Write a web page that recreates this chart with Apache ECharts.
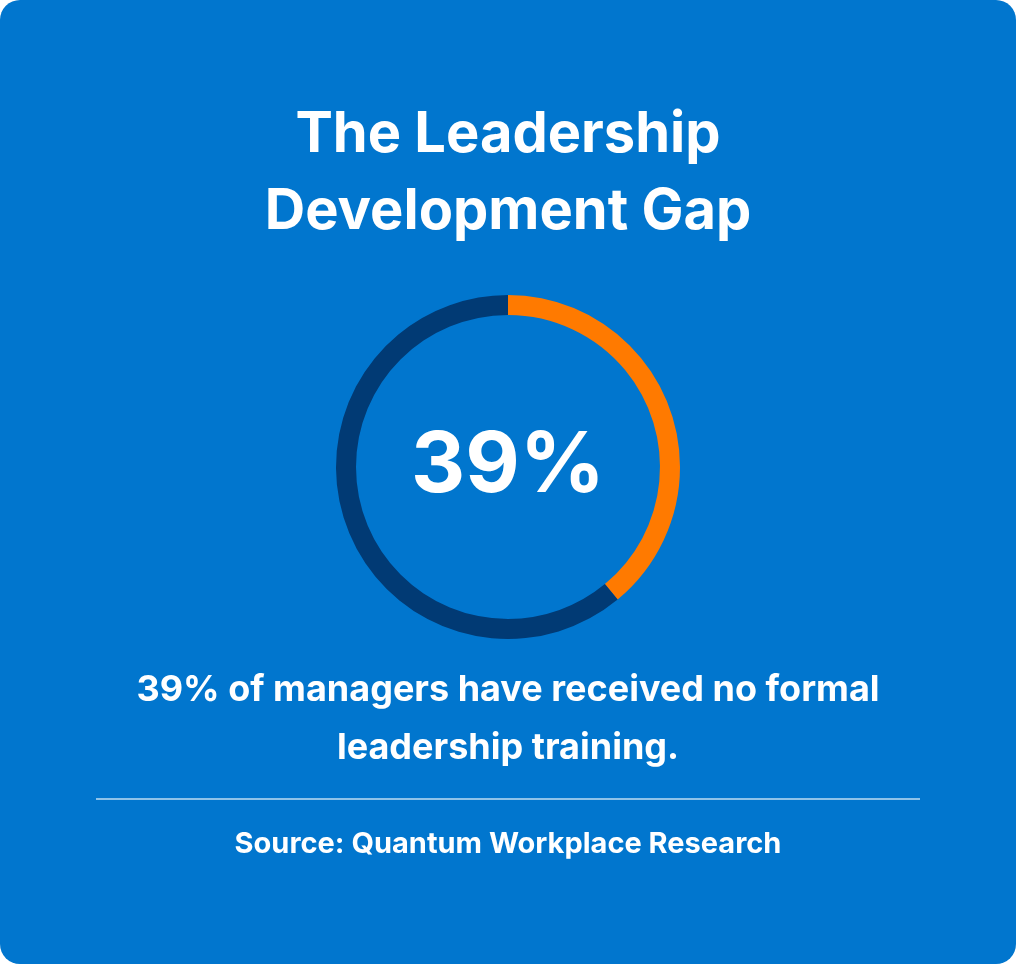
<!DOCTYPE html>
<html><head><meta charset="utf-8">
<script src="https://cdn.jsdelivr.net/npm/echarts@6/dist/echarts.min.js"></script>
<style>html,body{margin:0;padding:0;background:#fff}#c{width:1016px;height:964px}</style>
</head><body><div id="c"></div>
<script>
const categories = ['No formal training', 'Received training'];
const values = [39, 61];
const titleLines = ['The Leadership', 'Development Gap'];
const centerLabel = '39%';
const captionLines = ['39% of managers have received no formal', 'leadership training.'];
const sourceText = 'Source: Quantum Workplace Research';

const chart = echarts.init(document.getElementById('c'));
const F = 'Inter, Lato, sans-serif';
function t(text, y, size){
  return {type:'text', x:508, y:y, style:{text:text, fill:'#fff', font:'bold '+size+'px '+F, textAlign:'center', textVerticalAlign:'middle'}};
}
chart.setOption({
  backgroundColor: '#ffffff',
  graphic: [
    {type:'rect', z:-10, shape:{x:0,y:0,width:1016,height:964,r:20}, style:{fill:'#0176CE'}},
    t(titleLines[0], 135, 56), t(titleLines[1], 212, 56),
    t(centerLabel, 467, 84),
    t(captionLines[0], 690, 36), t(captionLines[1], 748, 36),
    {type:'line', shape:{x1:96,y1:799,x2:920,y2:799}, style:{stroke:'rgba(255,255,255,0.75)', lineWidth:1.5}},
    t(sourceText, 844, 29)
  ],
  series: [{
    type:'pie', center:[508,467], radius:[152,172], startAngle:90, clockwise:true,
    silent:true, label:{show:false}, labelLine:{show:false},
    itemStyle:{borderWidth:0},
    data: categories.map((n,i)=>({name:n, value:values[i], itemStyle:{color:i===0?'#FF7A00':'#013A74'}}))
  }]
});
</script></body></html>
